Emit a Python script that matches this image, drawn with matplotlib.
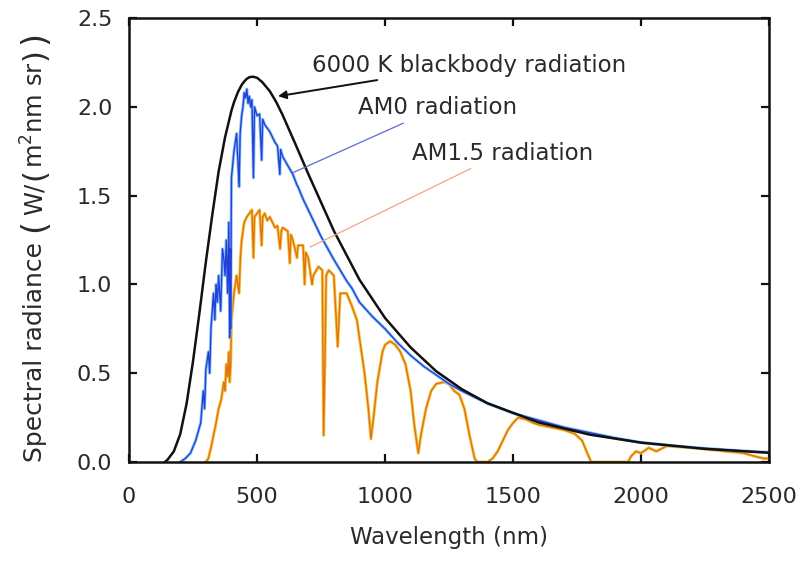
#!/usr/bin/env python
from __future__ import annotations

import matplotlib

matplotlib.use("Agg")

import matplotlib.pyplot as plt

plt.rcParams["font.family"] = ["DejaVu Sans"]
plt.rcParams["mathtext.fontset"] = "dejavusans"

# 6000 K blackbody curve
BB_WL = [140, 150, 175, 200, 225, 250, 275, 300, 325, 350, 375, 400, 410, 425, 440,
         450, 460, 470, 483, 500, 520, 550, 575, 600, 650, 700, 800, 900, 1000, 1100,
         1200, 1300, 1400, 1600, 1800, 2000, 2250, 2500]
BB_VAL = [0.0, 0.012, 0.06, 0.157, 0.33, 0.568, 0.84, 1.126, 1.39, 1.636, 1.828, 1.979,
          2.026, 2.082, 2.124, 2.143, 2.158, 2.167, 2.17, 2.164, 2.14, 2.088, 2.027,
          1.954, 1.79, 1.623, 1.302, 1.027, 0.811, 0.645, 0.511, 0.41, 0.331, 0.223,
          0.154, 0.109, 0.074, 0.052]

# AM0 extraterrestrial spectrum
AM0_WL = [200, 220, 240, 260, 280, 290, 295, 300, 310, 315, 320, 330, 335, 340, 345,
          350, 358, 365, 370, 375, 380, 385, 390, 393, 396, 397, 400, 410, 415, 420,
          425, 430, 434, 440, 445, 450, 455, 460, 465, 470, 475, 480, 486, 490, 500,
          510, 518, 522, 530, 540, 550, 560, 570, 580, 589, 592, 600, 620, 640, 656,
          660, 680, 700, 720, 750, 800, 850, 870, 900, 950, 1000, 1050, 1100, 1150,
          1200, 1250, 1300, 1400, 1500, 1600, 1700, 1800, 1900, 2000, 2100, 2200,
          2300, 2400, 2500]
AM0_VAL = [0.0, 0.02, 0.05, 0.12, 0.22, 0.40, 0.30, 0.52, 0.62, 0.50, 0.75, 0.95, 0.80,
           1.00, 0.90, 1.05, 0.85, 1.20, 1.15, 1.05, 1.25, 0.95, 1.35, 0.70, 1.20, 0.75,
           1.60, 1.75, 1.80, 1.85, 1.70, 1.55, 1.85, 1.95, 2.00, 2.08, 2.05, 2.10, 2.02,
           2.06, 2.00, 2.04, 1.60, 2.00, 1.95, 1.96, 1.70, 1.93, 1.90, 1.88, 1.86, 1.83,
           1.80, 1.78, 1.62, 1.76, 1.72, 1.67, 1.62, 1.56, 1.55, 1.48, 1.42, 1.36, 1.27,
           1.14, 1.02, 0.98, 0.90, 0.82, 0.75, 0.67, 0.60, 0.54, 0.49, 0.44, 0.40, 0.33,
           0.275, 0.235, 0.195, 0.165, 0.135, 0.11, 0.095, 0.082, 0.072, 0.062, 0.054]

# AM1.5 ground-level spectrum
AM15_WL = [300, 310, 320, 330, 340, 350, 360, 370, 375, 380, 385, 390, 393, 397, 400,
           410, 420, 430, 435, 440, 450, 460, 470, 480, 486, 490, 500, 510, 518, 522,
           530, 540, 550, 560, 570, 580, 590, 595, 600, 620, 628, 632, 640, 656, 660,
           680, 686, 690, 700, 715, 720, 740, 755, 760, 765, 770, 780, 800, 815, 825,
           850, 870, 890, 900, 920, 935, 945, 955, 970, 990, 1000, 1020, 1040, 1060,
           1080, 1100, 1115, 1130, 1140, 1160, 1180, 1200, 1230, 1250, 1270, 1290,
           1310, 1330, 1350, 1360, 1400, 1420, 1440, 1460, 1480, 1500, 1520, 1550,
           1580, 1600, 1650, 1700, 1740, 1770, 1790, 1805, 1950, 1960, 1980, 2000,
           2030, 2060, 2100, 2200, 2300, 2400, 2450, 2480, 2500]
AM15_VAL = [0.0, 0.02, 0.08, 0.15, 0.22, 0.30, 0.35, 0.45, 0.40, 0.55, 0.48, 0.62, 0.45,
            0.55, 0.80, 0.95, 1.05, 0.95, 1.15, 1.25, 1.35, 1.38, 1.40, 1.42, 1.15, 1.38,
            1.40, 1.42, 1.22, 1.38, 1.40, 1.36, 1.38, 1.35, 1.32, 1.33, 1.20, 1.30, 1.32,
            1.30, 1.12, 1.28, 1.25, 1.15, 1.22, 1.22, 1.00, 1.18, 1.15, 1.00, 1.05, 1.10,
            1.08, 0.15, 0.55, 1.05, 1.08, 1.05, 0.65, 0.95, 0.95, 0.88, 0.80, 0.70, 0.50,
            0.30, 0.13, 0.25, 0.45, 0.62, 0.66, 0.68, 0.66, 0.62, 0.55, 0.40, 0.20, 0.05,
            0.15, 0.30, 0.40, 0.44, 0.45, 0.44, 0.40, 0.38, 0.30, 0.15, 0.02, 0.0, 0.0,
            0.02, 0.06, 0.12, 0.18, 0.22, 0.25, 0.24, 0.22, 0.21, 0.195, 0.18, 0.16,
            0.12, 0.05, 0.0, 0.0, 0.03, 0.06, 0.05, 0.08, 0.06, 0.09, 0.08, 0.065, 0.05,
            0.03, 0.02, 0.02]

X_TICKS = [0, 500, 1000, 1500, 2000, 2500]
Y_TICKS = [0.0, 0.5, 1.0, 1.5, 2.0, 2.5]

TEXT_COLOR = "#2a2a2a"
FIG_W, FIG_H = 798, 565


def ylabel_piece(fig, text: str, y_px: float, size: float) -> None:
    """Vertical y-label built from pieces so the outer brackets can be tall."""
    fig.text(35 / FIG_W, 1 - y_px / FIG_H, text, rotation=90, fontsize=size,
             color=TEXT_COLOR, ha="center", va="center", rotation_mode="anchor")


def make_plot(out_path: str) -> None:
    fig = plt.figure(figsize=(FIG_W / 100, FIG_H / 100), dpi=100)
    ax = fig.add_axes([0.1617, 0.1823, 0.8020, 0.7857])

    # AM1.5: yellow halo under an orange trace
    ax.plot(AM15_WL, AM15_VAL, color="#f3c640", lw=2.2, solid_joinstyle="round")
    ax.plot(AM15_WL, AM15_VAL, color="#e07415", lw=1.0)
    # AM0: light-blue halo under a blue trace
    ax.plot(AM0_WL, AM0_VAL, color="#8cc6f0", lw=2.2, solid_joinstyle="round")
    ax.plot(AM0_WL, AM0_VAL, color="#2440dc", lw=1.0)
    ax.plot(BB_WL, BB_VAL, color="#111111", lw=1.8)

    ax.annotate("6000 K blackbody radiation", xy=(582, 2.06), xytext=(715, 2.235),
                fontsize=16.5, color=TEXT_COLOR, va="center", ha="left",
                arrowprops=dict(arrowstyle="-|>", color="#111111", lw=1.4,
                                mutation_scale=12, shrinkA=3, shrinkB=0))
    ax.annotate("AM0 radiation", xy=(641, 1.63), xytext=(895, 1.995),
                fontsize=16.5, color=TEXT_COLOR, va="center", ha="left",
                arrowprops=dict(arrowstyle="-", color="#5a6ad4", lw=0.9,
                                shrinkA=2, shrinkB=0))
    ax.annotate("AM1.5 radiation", xy=(707, 1.21), xytext=(1105, 1.74),
                fontsize=16.5, color=TEXT_COLOR, va="center", ha="left",
                arrowprops=dict(arrowstyle="-", color="#f2a488", lw=0.9,
                                shrinkA=2, shrinkB=0))

    ax.set_xlim(0, 2500)
    ax.set_ylim(0, 2.5)
    ax.set_xticks(X_TICKS)
    ax.set_xticklabels([str(t) for t in X_TICKS])
    ax.set_yticks(Y_TICKS)
    ax.set_yticklabels([f"{t:.1f}" for t in Y_TICKS])
    ax.tick_params(direction="in", length=6, width=1.6, top=True, right=True,
                   labelsize=16, colors="#111111", labelcolor=TEXT_COLOR)
    ax.tick_params(axis="x", pad=18)
    ax.tick_params(axis="y", pad=12)
    for spine in ax.spines.values():
        spine.set_linewidth(1.8)
        spine.set_color("#111111")

    ax.set_xlabel("Wavelength (nm)", fontsize=16.5, color=TEXT_COLOR, labelpad=14)

    ylabel_piece(fig, "Spectral radiance", 352, 18)
    ylabel_piece(fig, "(", 225, 24)
    ylabel_piece(fig, "W/", 199, 17.5)
    ylabel_piece(fig, "(", 174, 22)
    ylabel_piece(fig, r"m$^2$nm sr", 115, 17.5)
    ylabel_piece(fig, ")", 54, 22)
    ylabel_piece(fig, ")", 37, 24)

    fig.savefig(out_path, dpi=100)
    plt.close(fig)


def main() -> None:
    make_plot("out.png")


if __name__ == "__main__":
    main()
